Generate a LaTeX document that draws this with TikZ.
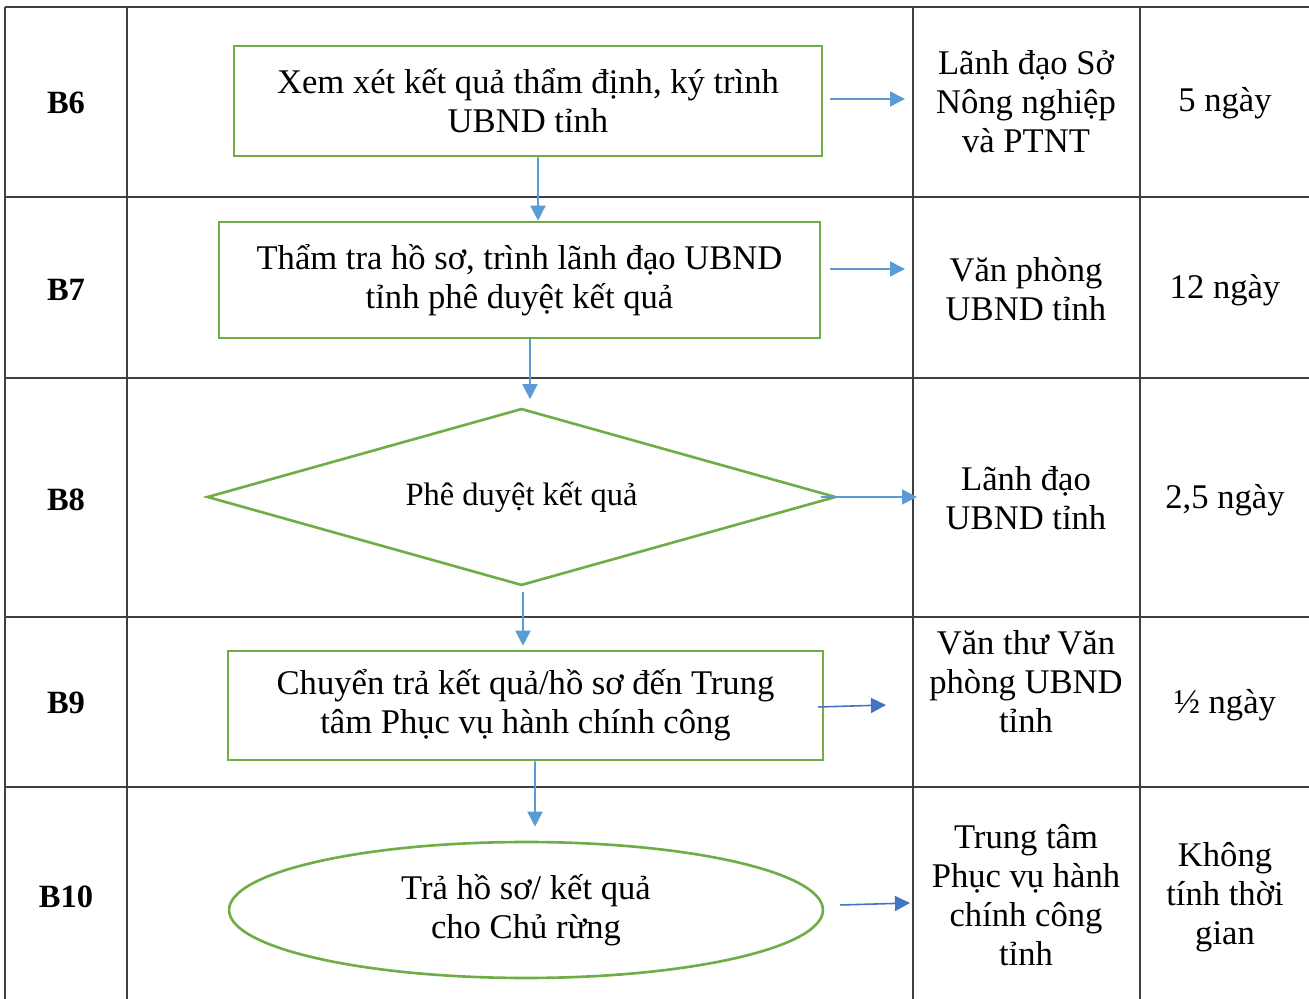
\documentclass[tikz,border=0pt]{standalone}
\usepackage{fontspec}
\setmainfont{Liberation Serif}
\usetikzlibrary{shapes,arrows.meta,calc}
\definecolor{boxgreen}{HTML}{70AD47}
\definecolor{arrowblue}{HTML}{5B9BD5}
\definecolor{darkblue}{HTML}{4472C4}
\definecolor{gridgray}{HTML}{404040}

\begin{document}
\begin{tikzpicture}[x=0.02cm,y=-0.02cm,
  every node/.style={font=\fontsize{19.7}{22.2}\selectfont, align=center, inner sep=0pt},
  grid/.style={gridgray, line width=1pt},
  steplabel/.style={font=\fontsize{18.5}{21.6}\selectfont\bfseries},
  stepbox/.style={draw=boxgreen, line width=1.5pt},
  flow/.style={arrowblue, line width=0.9pt, -{Triangle[length=0.3cm,width=0.3cm]}}]
\useasboundingbox (0,0) rectangle (1309,999);
% table grid
\draw[grid] (5,7) -- (1309,7);
\foreach \y in {197,378,617,787} \draw[grid] (5,\y) -- (1309,\y);
\foreach \x in {5,127,913,1140} \draw[grid] (\x,7) -- (\x,999);
% step names
\foreach \n/\y in {6/103,7/290,8/500,9/703,10/897}
  \node[steplabel] (s\n) at (66,\y) {B\n};
% flow chart
\node[stepbox, minimum width=11.76cm, minimum height=2.2cm] (b6) at (528,101)
  {Xem xét kết quả thẩm định, ký trình\\UBND tỉnh};
\node[stepbox, minimum width=12.02cm, minimum height=2.32cm] (b7) at (519.5,280)
  {Thẩm tra hồ sơ, trình lãnh đạo UBND\\tỉnh phê duyệt kết quả};
\node[stepbox, diamond, aspect=3.55, font=\fontsize{18.5}{21.6}\selectfont,
  minimum width=12.58cm, minimum height=3.54cm] (d8) at (521.5,497)
  {Phê duyệt kết quả};
\node[stepbox, minimum width=11.9cm, minimum height=2.18cm] (b9) at (525.5,705.5)
  {Chuyển trả kết quả/hồ sơ đến Trung\\tâm Phục vụ hành chính công};
\node[stepbox, ellipse, minimum width=11.88cm, minimum height=2.72cm] (b10) at (526,910)
  {Trả hồ sơ/ kết quả\\cho Chủ rừng};
\draw[flow] ($(b6.south)+(10,0)$) -- ($(b7.north)+(18.5,0)$);
\draw[flow] ($(b7.south)+(10.5,0)$) -- ($(d8.north)+(8.5,-8)$);
\draw[flow] ($(d8.south)+(1.5,5)$) -- ($(b9.north)+(-2.5,-4)$);
\draw[flow] ($(b9.south)+(9.5,0)$) -- ($(b10.north)+(9,-14)$);
% responsible units
\node (u6) at (1026,102) {Lãnh đạo Sở\\Nông nghiệp\\và PTNT};
\node (u7) at (1026,289) {Văn phòng\\UBND tỉnh};
\node (u8) at (1026,498) {Lãnh đạo\\UBND tỉnh};
\node (u9) at (1026,682) {Văn thư Văn\\phòng UBND\\tỉnh};
\node (u10) at (1026,895) {Trung tâm\\Phục vụ hành\\chính công\\tỉnh};
\coordinate (e6) at (905,99);
\coordinate (e7) at (905,269);
\coordinate (e8) at (917,497);
\coordinate (e9) at (886,705);
\coordinate (e10) at (910,903);
\draw[flow] ($(b6.east)+(7,-2)$) -- (e6);
\draw[flow] ($(b7.east)+(9,-11)$) -- (e7);
\draw[flow] ($(d8.east)+(-16,0)$) -- (e8);
\draw[flow, darkblue] ($(b9.east)+(-6,1.5)$) -- (e9);
\draw[flow, darkblue] ($(b10.east)+(16,-5)$) -- (e10);
% time
\node (t6) at (1225,103) {5 ngày};
\node (t7) at (1225,290) {12 ngày};
\node (t8) at (1225,500) {2,5 ngày};
\node (t9) at (1225,705) {½ ngày};
\node (t10) at (1225,897) {Không\\tính thời\\gian};
\end{tikzpicture}
\end{document}
